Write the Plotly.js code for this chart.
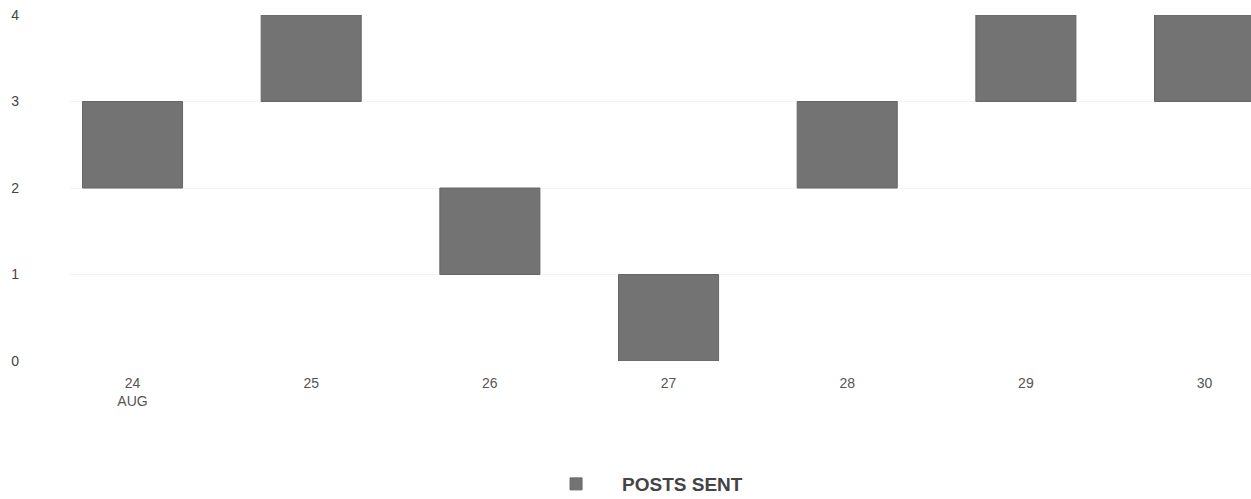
<!DOCTYPE html>
<html>
<head>
<meta charset="utf-8">
<script src="https://cdn.plot.ly/plotly-3.0.1.min.js"></script>
<style>html,body{margin:0;padding:0;background:#fff;}#chart{width:1251px;height:499px;}</style>
</head>
<body>
<div id="chart"></div>
<script>
const days = [24, 25, 26, 27, 28, 29, 30];
const tickLabels = ['24<br>AUG', '25', '26', '27', '28', '29', '30'];
const lows = [2, 3, 1, 0, 2, 3, 3];
const highs = [3, 4, 2, 1, 3, 4, 4];
const seriesName = 'POSTS SENT';

const heights = highs.map((h, i) => h - lows[i]);

const trace = {
  type: 'bar',
  x: days,
  y: heights,
  base: lows,
  name: seriesName,
  width: 0.56,
  marker: {color: '#737373', line: {color: '#666666', width: 1}},
  hoverinfo: 'skip'
};

const layout = {
  width: 1251, height: 499,
  margin: {l: 70, r: 0, t: 15, b: 138},
  paper_bgcolor: '#ffffff', plot_bgcolor: '#ffffff',
  font: {family: 'Liberation Sans, Arial, sans-serif', color: '#555555', size: 14},
  bargap: 0,
  xaxis: {
    range: [23.65, 30.26],
    tickvals: days, ticktext: tickLabels,
    showgrid: false, zeroline: false, showline: false, ticks: '',
    ticklabelstandoff: 12,
    tickfont: {size: 14, color: '#555555'}, fixedrange: true
  },
  yaxis: {
    range: [0, 4], tickvals: [0, 1, 2, 3, 4],
    showgrid: true, gridcolor: '#f3f3f3', gridwidth: 1,
    zeroline: false, showline: false, ticks: '',
    ticklabelstandoff: 50,
    tickfont: {size: 14, color: '#444444'}, fixedrange: true
  },
  showlegend: true,
  legend: {
    orientation: 'h',
    xref: 'container', x: 0.4237, xanchor: 'left',
    yref: 'container', y: 0.03, yanchor: 'middle',
    font: {size: 19, color: '#444444', weight: 'bold'},
    itemwidth: 82
  }
};

Plotly.newPlot('chart', [trace], layout, {displayModeBar: false, staticPlot: true});
</script>
</body>
</html>
